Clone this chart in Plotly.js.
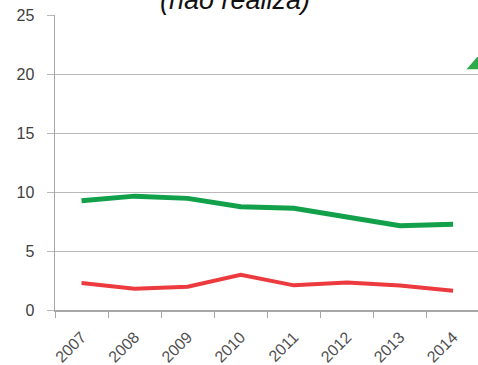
<!DOCTYPE html>
<html>
<head>
<meta charset="utf-8">
<script src="https://cdn.plot.ly/plotly-3.0.1.min.js"></script>
<style>html,body{margin:0;padding:0;background:#fff;}#chart{width:478px;height:365px;}</style>
</head>
<body>
<div id="chart"></div>
<script>
var years = ["2007", "2008", "2009", "2010", "2011", "2012", "2013", "2014"];
var greenValues = [9.26, 9.65, 9.46, 8.75, 8.62, 7.91, 7.15, 7.27];
var redValues = [2.29, 1.81, 1.98, 2.99, 2.09, 2.32, 2.07, 1.64];
var yTicks = [0, 5, 10, 15, 20, 25];
var titleText = "(não realiza)";

var traces = [
  {x: years, y: greenValues, type: "scatter", mode: "lines",
   line: {color: "#12a04a", width: 5}, hoverinfo: "x+y"},
  {x: years, y: redValues, type: "scatter", mode: "lines",
   line: {color: "#ec3a3e", width: 4}, hoverinfo: "x+y"}
];

var layout = {
  width: 478, height: 365,
  margin: {l: 55, r: 0, t: 15, b: 55},
  paper_bgcolor: "#ffffff", plot_bgcolor: "#ffffff",
  showlegend: false,
  font: {family: "Liberation Sans, Arial, sans-serif", color: "#404040"},
  xaxis: {
    type: "category", range: [-0.5, 7.47],
    tickangle: -45, tickfont: {size: 16, color: "#505050"},
    ticklabelstandoff: 10,
    showgrid: false, showline: true, linecolor: "#a6a6a6", linewidth: 1.5,
    ticks: "outside", ticklen: 6, tickcolor: "#a6a6a6",
    tickson: "boundaries", zeroline: false, fixedrange: true
  },
  yaxis: {
    range: [0, 25], tickvals: yTicks, ticktext: yTicks.map(String),
    tickfont: {size: 16, color: "#404040"},
    ticklabelstandoff: 9,
    showgrid: true, gridcolor: "#b8b8b8", gridwidth: 1,
    showline: true, linecolor: "#a6a6a6", linewidth: 1.5,
    ticks: "outside", ticklen: 7, tickcolor: "#b8b8b8",
    zeroline: false, fixedrange: true
  },
  annotations: [{
    text: "<i>" + titleText + "</i>", xref: "paper", yref: "paper",
    x: 0.425, y: 1.0, xanchor: "center", yanchor: "bottom", yshift: -2,
    showarrow: false, font: {size: 27, color: "#111111", family: "Liberation Sans, Arial, sans-serif"}
  }],
  shapes: [{
    type: "path", xref: "paper", yref: "paper",
    path: "M 0.973 0.816 L 0.998 0.858 L 1.0 0.858 L 1.0 0.816 Z",
    fillcolor: "#2eaa4a", line: {width: 0}
  }]
};

Plotly.newPlot("chart", traces, layout, {displayModeBar: false, staticPlot: true});
</script>
</body>
</html>
